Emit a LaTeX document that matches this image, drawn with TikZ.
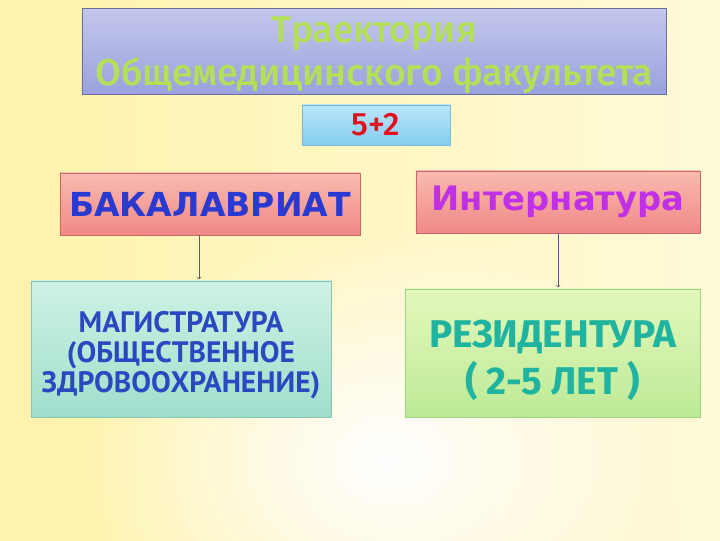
\documentclass[tikz,border=0pt]{standalone}
\usepackage{fontspec}
\setmainfont{Fira Sans}
\newfontfamily\headfont{Fira Sans Medium}
\newfontfamily\wideboldfont{DejaVu Sans}
\newfontfamily\narrowboldfont{PT Sans}
\usetikzlibrary{positioning,fadings}

\tikzfading[name=glow,inner color=transparent!0,outer color=transparent!100]

\definecolor{bgleft}{HTML}{FFF2AC}
\definecolor{bgright}{HTML}{FFFAD8}
\definecolor{titletop}{HTML}{C4C7EB}
\definecolor{titlebot}{HTML}{9AA1DD}
\definecolor{titleline}{HTML}{6A6FA0}
\definecolor{titletext}{HTML}{B4E058}
\definecolor{yeartop}{HTML}{BAE7FA}
\definecolor{yearbot}{HTML}{84CCEE}
\definecolor{yearline}{HTML}{78BCD8}
\definecolor{yeartext}{HTML}{E01020}
\definecolor{stagetop}{HTML}{F9BBB0}
\definecolor{stagebot}{HTML}{F08886}
\definecolor{stageline}{HTML}{C86A66}
\definecolor{bachtext}{HTML}{2A3AD0}
\definecolor{interntext}{HTML}{C030E6}
\definecolor{magtop}{HTML}{CEF2E4}
\definecolor{magbot}{HTML}{A0DECC}
\definecolor{magline}{HTML}{86C4B4}
\definecolor{magtext}{HTML}{2A48C0}
\definecolor{restop}{HTML}{E4F8BC}
\definecolor{resbot}{HTML}{BCEA96}
\definecolor{resline}{HTML}{A2D284}
\definecolor{restext}{HTML}{20B4A0}
\definecolor{linkblue}{HTML}{505A84}

\begin{document}
\begin{tikzpicture}[x=0.025cm,y=-0.025cm,
    box node/.style={draw,rectangle,inner sep=0pt,align=center},
    link/.style={->,draw=linkblue,thin,shorten >=1pt}]

    % Background
    \useasboundingbox (0,0) rectangle (720,540);
    \begin{scope}
        \clip (0,0) rectangle (720,540);
        \fill[left color=bgleft,right color=bgright] (0,0) rectangle (720,540);
        \fill[white,path fading=glow] (390,460) ellipse (300 and 230);
    \end{scope}

    % Define boxes
    \node[box node,draw=titleline,top color=titletop,bottom color=titlebot,
          minimum width=14.6cm,minimum height=2.125cm,text=titletext,
          font=\headfont\fontsize{26.5}{30.6}\selectfont] (title) at (374,51.5)
          {\raisebox{-3pt}[\height][\depth]{\begin{tabular}{@{}c@{}}Траектория\\Общемедицинского факультета\end{tabular}}};
    \node[box node,draw=yearline,top color=yeartop,bottom color=yearbot,
          minimum width=3.7cm,minimum height=1cm,text=yeartext,
          font=\headfont\fontsize{23}{26}\selectfont] (years) at (376,125) {5+2};
    \node[box node,draw=stageline,top color=stagetop,bottom color=stagebot,
          minimum width=7.5cm,minimum height=1.55cm,text=bachtext,
          font=\wideboldfont\bfseries\fontsize{23.5}{28}\selectfont] (bach) at (210,204) {БАКАЛАВРИАТ};
    \node[box node,draw=stageline,top color=stagetop,bottom color=stagebot,
          minimum width=7.1cm,minimum height=1.55cm,text=interntext,
          font=\wideboldfont\bfseries\fontsize{24}{28}\selectfont] (intern) at (558,202) {Интернатура};
    \node[box node,draw=magline,top color=magtop,bottom color=magbot,
          minimum width=7.5cm,minimum height=3.4cm,text=magtext,
          font=\narrowboldfont\bfseries\fontsize{21}{21.3}\selectfont] (mag) at (181,349)
          {\raisebox{-5pt}[\height][\depth]{\begin{tabular}{@{}c@{}}МАГИСТРАТУРА\\(ОБЩЕСТВЕННОЕ\\ЗДРОВООХРАНЕНИЕ)\end{tabular}}};
    \node[box node,draw=resline,top color=restop,bottom color=resbot,
          minimum width=7.375cm,minimum height=3.2cm,text=restext,
          font=\bfseries\fontsize{27.5}{32.7}\selectfont] (res) at (552.5,353)
          {\raisebox{-6pt}[\height][\depth]{\begin{tabular}{@{}c@{}}РЕЗИДЕНТУРА\\( 2-5 ЛЕТ )\end{tabular}}};

    % Draw links
    \coordinate (bachx) at (199,0);
    \coordinate (internx) at (558,0);
    \draw[link] (bach.south -| bachx) -- (mag.north -| bachx);
    \draw[link] (intern.south -| internx) -- (res.north -| internx);

\end{tikzpicture}
\end{document}
